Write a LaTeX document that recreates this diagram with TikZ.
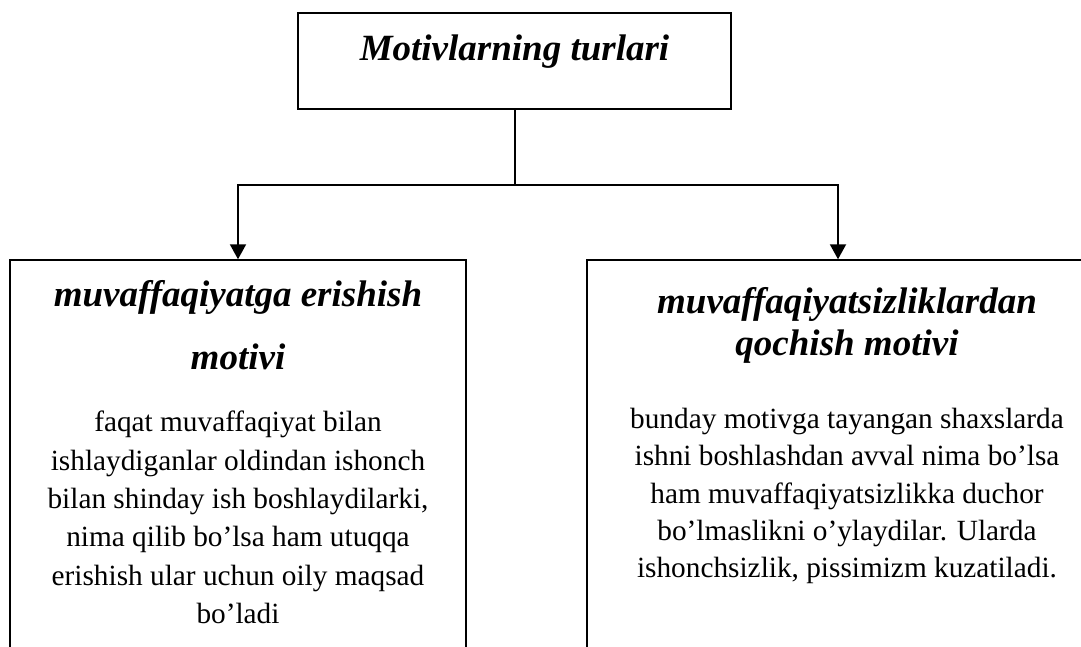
\documentclass[tikz,border=0pt]{standalone}
\usepackage{fontspec}
\setmainfont{Liberation Serif}
\usetikzlibrary{arrows.meta, positioning, calc}

\begin{document}
\begin{tikzpicture}[x=1pt, y=1pt, >={Triangle[length=15pt, width=16pt]}, line/.style={draw=black, line width=2pt}, border/.style={draw=black, line width=1.5pt}]
% Define styles for blocks and texts
\tikzstyle{block} = [rectangle, fill=white, inner sep=0pt, border]
\tikzstyle{head} = [anchor=north, inner sep=0pt, align=center, font=\fontsize{37}{42.5}\selectfont\bfseries\itshape]
\tikzstyle{body} = [anchor=north, inner sep=0pt, align=center]

\useasboundingbox (0,0) rectangle (1081,-647);

% Nodes placement
\node [block, minimum width=433pt, minimum height=96pt] (types) at (514.5,-61) {};
\node [block, minimum width=456pt, minimum height=420pt] (success) at (238,-470) {};
\node [block, minimum width=502pt, minimum height=420pt] (failure) at (838,-470) {};
\coordinate (split) at ($(types.south)+(0,-75)$);

% Texts
\node [head] (typestitle) at (514.5,-35) {Motivlarning turlari};
\node [head, font=\fontsize{37}{63.5}\selectfont\bfseries\itshape] (successhead) at (238,-280) {muvaffaqiyatga erishish\\motivi};
\node [body, font=\fontsize{29.3}{38.3}\selectfont] (successtext) at (238,-411) {faqat muvaffaqiyat bilan\\ishlaydiganlar oldindan ishonch\\bilan shinday ish boshlaydilarki,\\nima qilib bo’lsa ham utuqqa\\erishish ular uchun oily maqsad\\bo’ladi};
\node [head] (failurehead) at (847,-287) {muvaffaqiyatsizliklardan\\qochish motivi};
\node [body, font=\fontsize{29.3}{37.3}\selectfont] (failuretext) at (847,-408) {bunday motivga tayangan shaxslarda\\ishni boshlashdan avval nima bo’lsa\\ham muvaffaqiyatsizlikka duchor\\bo’lmaslikni o’ylaydilar. Ularda\\ishonchsizlik, pissimizm kuzatiladi.};

% Draw edges
\draw[line] (types.south) -- (split);
\draw[line,->] (split) -| (success.north);
\draw[line,->] (split) -| (failure.north);
\end{tikzpicture}
\end{document}
